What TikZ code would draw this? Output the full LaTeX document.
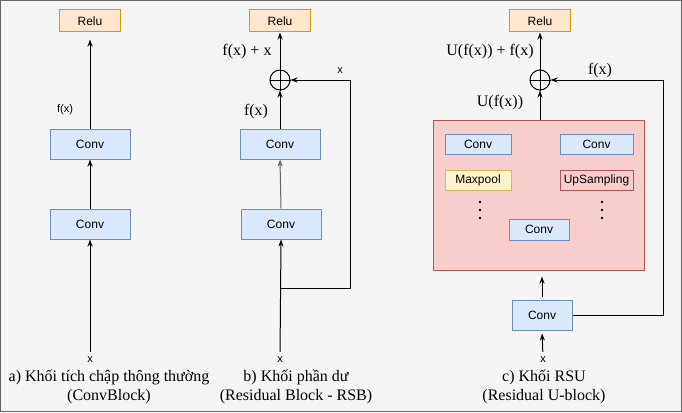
\documentclass[tikz,border=0pt]{standalone}
\usepackage{fontspec}
\setmainfont{Liberation Serif}
\setsansfont{Liberation Sans}
\usetikzlibrary{arrows.meta}

\definecolor{bgfill}{HTML}{F5F5F5}
\definecolor{bgline}{HTML}{666666}
\definecolor{convfill}{HTML}{DAE8FC}
\definecolor{convline}{HTML}{6C8EBF}
\definecolor{relufill}{HTML}{FFE6CC}
\definecolor{reluline}{HTML}{D79B00}
\definecolor{poolfill}{HTML}{FFF2CC}
\definecolor{poolline}{HTML}{D6B656}
\definecolor{ufill}{HTML}{F8CECC}
\definecolor{uline}{HTML}{B85450}

\begin{document}
\begin{tikzpicture}[
        x=1pt, y=-1pt,
        conv/.style={draw=convline, fill=convfill, line width=1pt, minimum width=80pt, minimum height=30pt, inner sep=0pt, font=\sffamily\fontsize{12}{14}\selectfont},
        small_conv/.style={conv, minimum width=66pt, minimum height=20pt},
        relu/.style={draw=reluline, fill=relufill, line width=1pt, minimum width=61pt, minimum height=22pt, inner sep=0pt, font=\sffamily\fontsize{12}{14}\selectfont},
        sum/.style={draw, circle, line width=1pt, minimum size=20pt, inner sep=0pt},
        arrow/.style={-{Stealth[length=7pt, width=5pt]}, line width=1pt},
        line/.style={line width=1pt},
        lbl_sans/.style={font=\sffamily\fontsize{11}{13}\selectfont, inner sep=0pt},
        lbl_serif/.style={font=\fontsize{16}{19}\selectfont, inner sep=0pt},
        caption/.style={align=center, font=\fontsize{16}{19}\selectfont, inner sep=0pt}
    ]
    \useasboundingbox (0,0) rectangle (682,412);
    \filldraw[fill=bgfill, draw=bgline, line width=1pt] (0.5,0.5) rectangle (681.5,411.5);

    % ================= ConvBlock (Left) =================
    \node[relu] (relu_A) at (90,21) {Relu};
    \node[conv] (conv_A1) at (90,144) {Conv};
    \node[conv] (conv_A2) at (90,224) {Conv};
    \node[lbl_sans] (in_A) at (90,360) {x};
    \node[lbl_sans] (fx_A) at (65,110) {f(x)};

    \draw[arrow, shorten >=7pt] (conv_A1.north) -- (relu_A.south);
    \draw[arrow] (conv_A2.north) -- (conv_A1.south);
    \draw[arrow, shorten <=5pt] (in_A.north) -- (conv_A2.south);

    \node[caption] (cap_A) at (109,387) {a) Khối tích chập thông thường\\(ConvBlock)};

    % ================= Residual Block (Middle) =================
    \node[relu] (relu_B) at (280,21) {Relu};
    \node[sum] (sum_B) at (280,80) {};
    \draw[line] (sum_B.north) -- (sum_B.south) (sum_B.west) -- (sum_B.east);
    \node[conv] (conv_B1) at (280,144) {Conv};
    \node[conv] (conv_B2) at (281,224) {Conv};
    \node[lbl_sans] (in_B) at (280,360) {x};
    \node[lbl_serif] (out_B) at (247,52) {f(x) + x};
    \node[lbl_serif] (fx_B) at (256,112) {f(x)};
    \node[lbl_sans] (skip_B) at (340,71) {x};

    \coordinate (split_B) at (280,288);
    \coordinate (corner_B) at (350,80);

    \draw[arrow] (sum_B.north) -- (relu_B.south);
    \draw[arrow] (conv_B1.north) -- (sum_B.south);
    \draw[arrow, black!60] (conv_B2.north) -- (conv_B1.south);
    \draw[arrow, shorten <=5pt] (in_B.north) -- (conv_B2.south);
    % skip connection
    \draw[arrow] (split_B) -| (corner_B) -- (sum_B.east);

    \node[caption] (cap_B) at (296,387) {b) Khối phần dư\\(Residual Block - RSB)};

    % ================= RSU (Right) =================
    \node[relu] (relu_C) at (540,21) {Relu};
    \node[sum] (sum_C) at (540,80) {};
    \draw[line] (sum_C.north) -- (sum_C.south) (sum_C.west) -- (sum_C.east);
    \node[draw=uline, fill=ufill, line width=1pt, minimum width=211pt, minimum height=150pt, inner sep=0pt] (ublock) at (538.5,195) {};

    \node[small_conv] (enc_C) at (478,144) {Conv};
    \node[small_conv, minimum width=73pt] (dec_C) at (596.5,144) {Conv};
    \node[small_conv, draw=poolline, fill=poolfill] (pool_C) at (478,180.5) {Maxpool};
    \node[small_conv, draw=uline, fill=ufill, minimum width=73pt] (up_C) at (596.5,180.5) {UpSampling};
    \node[small_conv, minimum width=60pt, minimum height=21pt] (mid_C) at (539,229.5) {Conv};
    \foreach \y in {202,210,218} {
        \fill (480,\y) circle (1.3);
        \fill (602,\y) circle (1.3);
    }

    \node[conv, minimum width=60pt] (conv_C) at (542,315) {Conv};
    \node[lbl_sans] (in_C) at (543,360) {x};
    \node[lbl_serif] (out_C) at (490,52) {U(f(x)) + f(x)};
    \node[lbl_serif] (ufx_C) at (500,103) {U(f(x))};
    \node[lbl_serif] (fx_C) at (600,71) {f(x)};

    \coordinate (corner_C) at (663,80);

    \draw[arrow] (sum_C.north) -- (relu_C.south);
    \draw[arrow] (ublock.north -| sum_C) -- (sum_C.south);
    \draw[arrow, shorten <=3pt, shorten >=6pt] (conv_C.north) -- (conv_C.north |- ublock.south);
    \draw[arrow, shorten <=5pt, shorten >=3pt] (in_C.north) -- (conv_C.south);
    % residual connection
    \draw[arrow] (conv_C.east) -| (corner_C) -- (sum_C.east);

    \node[caption] (cap_C) at (544,387) {c) Khối RSU\\(Residual U-block)};

\end{tikzpicture}
\end{document}
